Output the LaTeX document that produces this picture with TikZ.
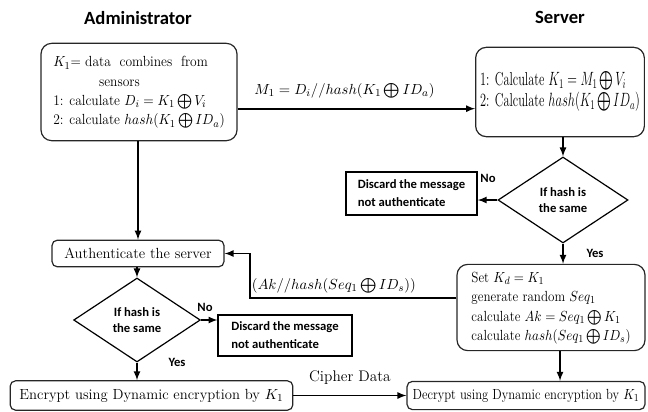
\documentclass[tikz,border=0pt]{standalone}
\usepackage{amsmath}
\usepackage{amssymb}
\usepackage{graphicx}
\usepackage{fontspec}
\newfontfamily\calibri{Carlito}
\usetikzlibrary{shapes.geometric,arrows}
\newcommand{\squeeze}[2]{\scalebox{#1}[1]{\begin{tabular}{@{}l@{}}#2\end{tabular}}}
\tikzset{
  rbox/.style={rectangle, rounded corners=4pt, draw=black!85, line width=0.9pt, align=left, font=\fontsize{11}{14.5}\selectfont},
  bigbox/.style={rbox, rounded corners=8pt},
  sbox/.style={rectangle, draw=black, line width=1.3pt, align=left, font=\calibri\bfseries\fontsize{9.5}{13.5}\selectfont},
  cond/.style={diamond, draw=black, line width=0.9pt, inner sep=0pt, align=center, font=\calibri\bfseries\fontsize{9.5}{12}\selectfont},
  connect/.style={-latex, line width=1.3pt},
  title/.style={font=\calibri\bfseries\fontsize{14}{16}\selectfont},
  tag/.style={font=\calibri\bfseries\fontsize{9.5}{11}\selectfont}
}

\begin{document}
\begin{tikzpicture}[x=0.75pt, y=-0.75pt]
  \useasboundingbox (0,0) rectangle (648,411);
  \node[title] (Admin) at (138,18) {Administrator};
  \node[title] (Server) at (560,17) {Server};

  % administrator side
  \node[bigbox, minimum width=147pt, minimum height=73pt] (Collect) at (139,92)
    {\squeeze{0.92}{$K_1$= data\ \ combines\ \ from\\ \hspace{3.4em}sensors\\
     1: calculate $D_i = K_1 \bigoplus V_i$\\
     2: calculate $hash(K_1 \bigoplus ID_a)$}};
  \node[rbox, minimum width=129pt, minimum height=20pt, align=center] (Auth) at (138,253.5) {Authenticate the server};
  \node[cond, minimum width=95pt, minimum height=63pt] (ADec) at (137,320) {If hash is\\the same};
  \node[sbox, minimum width=100pt, minimum height=31pt] (ADisc) at (285,335.5) {Discard the message\\not authenticate};
  \node[rbox, minimum width=212pt, minimum height=22pt, align=center] (Encrypt) at (151.5,395.5) {Encrypt using Dynamic encryption by $K_1$};

  % server side
  \node[bigbox, minimum width=124.5pt, minimum height=67pt, font=\fontsize{14}{15}\selectfont] (Check) at (560,92)
    {\squeeze{0.66}{1: Calculate $K_1 = M_1 \bigoplus V_i$\\
     2: Calculate $hash(K_1 \bigoplus ID_a)$}};
  \node[cond, minimum width=97.5pt, minimum height=64.5pt] (SDec) at (563,200) {If hash is\\the same};
  \node[sbox, minimum width=98pt, minimum height=32pt] (SDisc) at (411.5,193.5) {Discard the message\\not authenticate};
  \node[bigbox, minimum width=141pt, minimum height=61pt] (SetKey) at (551,307.5)
    {\squeeze{0.89}{Set $K_d = K_1$\\
     generate random $Seq_1$\\
     calculate $Ak = Seq_1 \bigoplus K_1$\\
     calculate $hash(Seq_1 \bigoplus ID_s)$}};
  \node[rbox, minimum width=178.5pt, minimum height=21pt, align=center] (Decrypt) at (526,395.5)
    {\squeeze{0.86}{Decrypt using Dynamic encryption by $K_1$}};

  % yes / no tags
  \node[tag] (SNo) at (488,178) {No};
  \node[tag] (SYes) at (595,253) {Yes};
  \node[tag] (ANo) at (205,307) {No};
  \node[tag] (AYes) at (177,362) {Yes};

  \path ([yshift=-12.5pt]Collect.east) edge [connect]
        node[above=4pt, pos=0.45, font=\fontsize{11}{13}\selectfont] {$M_1 = D_i//hash(K_1 \bigoplus ID_a)$}
        ([yshift=-12.5pt]Check.west);
  \path (Collect.south -| Auth.north) edge [connect] (Auth.north);
  \path (Auth.south -| ADec.north) edge [connect] (ADec.north);
  \path (ADec.east) edge [connect] (ADec.east -| ADisc.west);
  \path (ADec.south) edge [connect] (ADec.south |- Encrypt.north);
  \path (Encrypt.east) edge [connect]
        node[above=4pt, font=\fontsize{11.5}{13}\selectfont] {Cipher Data} (Decrypt.west);

  \path (SDec.north |- Check.south) edge [connect] (SDec.north);
  \path (SDec.west) edge [connect] (SDec.west -| SDisc.east);
  \path (SDec.south) edge [connect] (SDec.south |- SetKey.north);
  \path (SetKey.south -| 560,0) edge [connect] (Decrypt.north -| 560,0);

  % return message to the administrator
  \coordinate (bend) at (250,298);
  \draw [connect] (bend -| SetKey.west) -- node[above=0pt, pos=0.594, font=\fontsize{11}{13}\selectfont] {$(Ak//hash(Seq_1 \bigoplus ID_s))$}
        (bend) |- (Auth.east);
\end{tikzpicture}
\end{document}
